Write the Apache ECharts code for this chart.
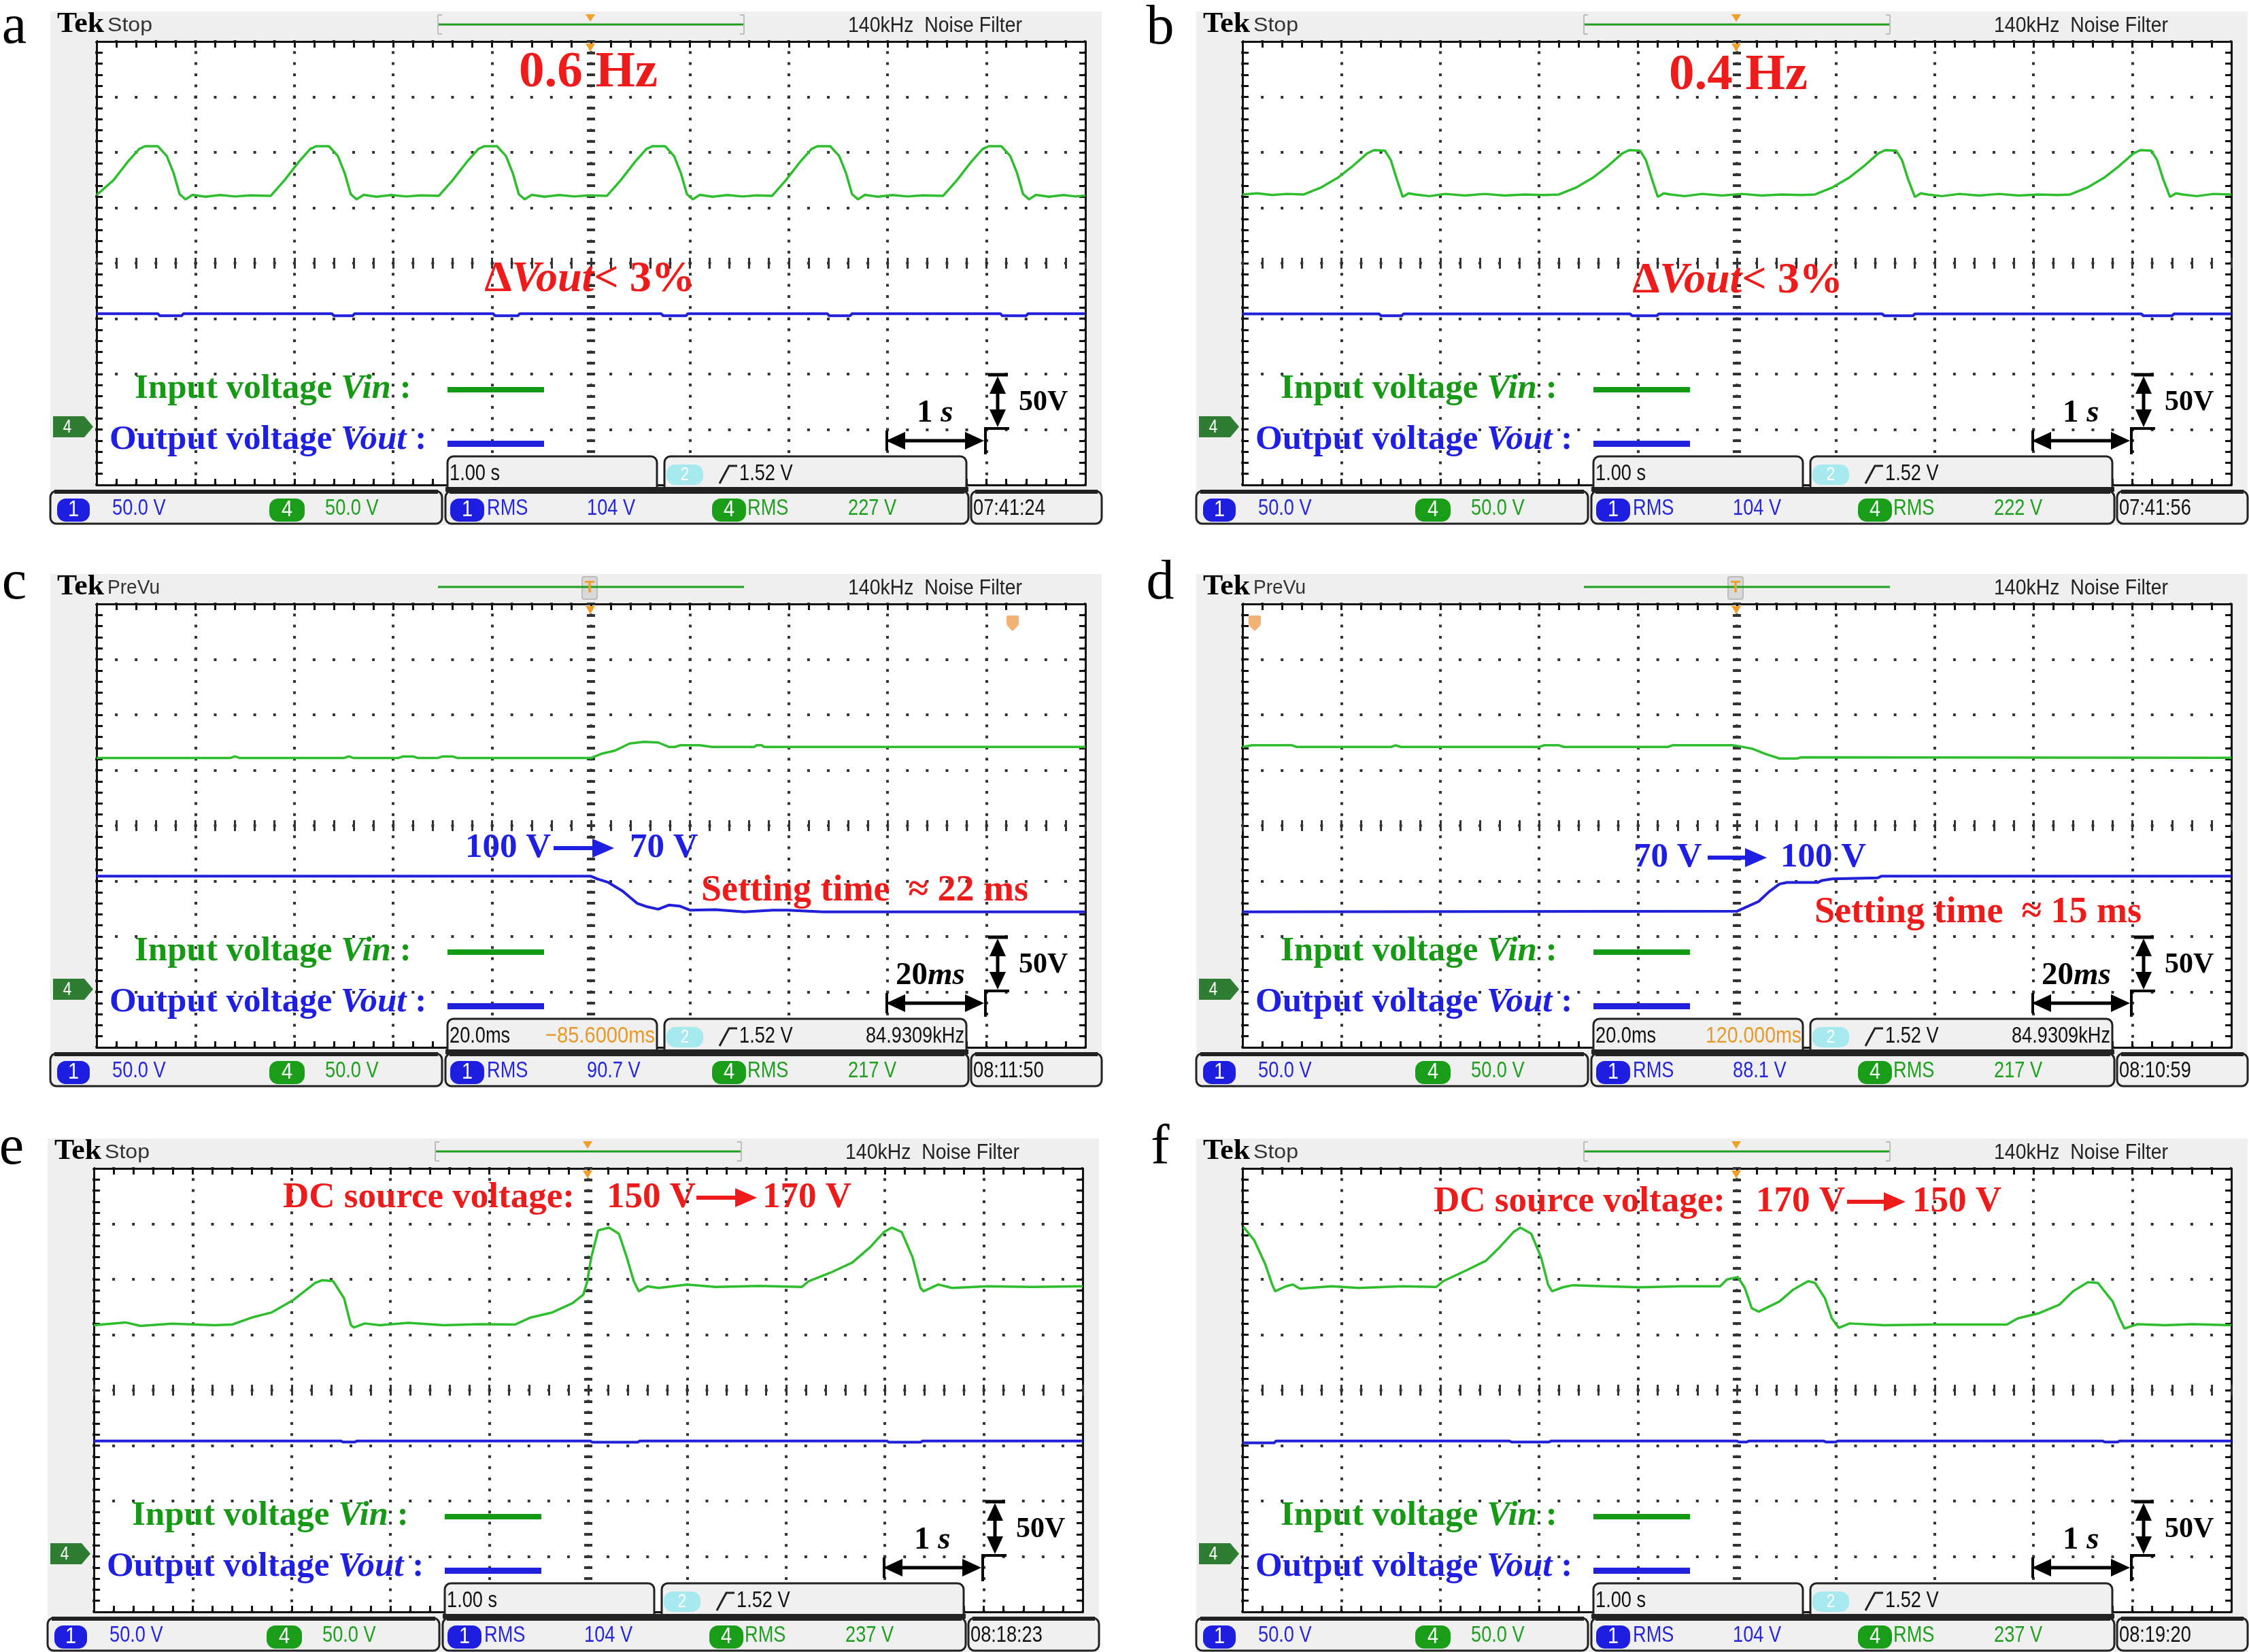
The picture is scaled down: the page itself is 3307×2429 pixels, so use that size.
<!DOCTYPE html>
<html>
<head>
<meta charset="utf-8">
<script src="https://cdn.jsdelivr.net/npm/echarts@6/dist/echarts.min.js"></script>
<style>
  html, body { margin: 0; padding: 0; background: #fff; }
  #chart { width: 3307px; height: 2429px; }
</style>
</head>
<body>
<div id="chart"></div>
<script>
// ---- waveform data: [time, volts]; time in s (a,b,e,f) or ms (c,d) ----
const aVin = [[-5.0,211.5],[-4.83,224.8],[-4.68,242],[-4.57,253],[-4.51,255.5],[-4.38,255.5],[-4.29,246.7],[-4.22,231],[-4.16,212.3],[-4.10,207.6],[-4.03,211.7],[-3.90,210],[-3.75,211.5],[-3.60,210.2],[-3.45,211.2],[-3.24,210.7],
  [-3.10,224.8],[-2.95,242],[-2.84,253],[-2.78,255.5],[-2.65,255.5],[-2.56,246.7],[-2.49,231],[-2.43,212.3],[-2.37,207.6],[-2.30,211.7],[-2.17,210],[-2.02,211.5],[-1.87,210.2],[-1.72,211.2],[-1.54,210.7],
  [-1.40,224.8],[-1.25,242],[-1.14,253],[-1.08,255.5],[-0.95,255.5],[-0.86,246.7],[-0.79,231],[-0.73,212.3],[-0.67,207.6],[-0.60,211.7],[-0.47,210],[-0.32,211.5],[-0.17,210.2],[-0.02,211.2],[0.16,210.7],
  [0.30,224.8],[0.45,242],[0.56,253],[0.62,255.5],[0.75,255.5],[0.84,246.7],[0.91,231],[0.97,212.3],[1.03,207.6],[1.10,211.7],[1.23,210],[1.38,211.5],[1.53,210.2],[1.68,211.2],[1.83,210.7],
  [1.97,224.8],[2.12,242],[2.23,253],[2.29,255.5],[2.42,255.5],[2.51,246.7],[2.58,231],[2.64,212.3],[2.70,207.6],[2.77,211.7],[2.90,210],[3.05,211.5],[3.20,210.2],[3.35,211.2],[3.56,210.7],
  [3.70,224.8],[3.85,242],[3.96,253],[4.02,255.5],[4.15,255.5],[4.24,246.7],[4.31,231],[4.37,212.3],[4.43,207.6],[4.50,211.7],[4.63,210],[4.78,211.5],[4.90,210.2],[5.0,211]];
const aVout = [[-5,104.5],[-4.38,104.5],[-4.36,102.6],[-4.14,102.6],[-4.12,104.5],[-2.62,104.5],[-2.60,102.6],[-2.41,102.6],[-2.39,104.5],[-0.99,104.5],[-0.97,102.6],[-0.74,102.6],[-0.72,104.5],
  [0.71,104.5],[0.73,102.6],[0.96,102.6],[0.98,104.5],[2.39,104.5],[2.41,102.6],[2.62,102.6],[2.64,104.5],[4.14,104.5],[4.16,102.6],[4.40,102.6],[4.42,104.5],[5,104.5]];

const bVin = [[-5,212],[-4.85,213],[-4.7,211.5],[-4.55,212.5],[-4.38,212],
  [-4.20,218.5],[-4.03,227.5],[-3.88,238],[-3.74,249],[-3.67,252],[-3.56,251.5],[-3.50,243],[-3.44,226],[-3.38,209.8],[-3.32,213],[-3.25,212],[-3.11,210.5],[-2.95,212.5],[-2.75,211],[-2.55,212.5],[-2.35,211],[-2.15,212],[-1.95,211.5],[-1.80,212],
  [-1.62,218.5],[-1.45,227.5],[-1.30,238],[-1.16,249],[-1.09,252],[-0.98,251.5],[-0.92,243],[-0.86,226],[-0.80,209.8],[-0.74,213],[-0.67,212],[-0.53,210.5],[-0.35,212.5],[-0.15,211],[0.05,212.5],[0.25,211],[0.45,212],[0.65,211.5],[0.79,212],
  [0.97,218.5],[1.14,227.5],[1.29,238],[1.43,249],[1.50,252],[1.61,251.5],[1.67,243],[1.73,226],[1.80,209.8],[1.86,213],[1.93,212],[2.07,210.5],[2.25,212.5],[2.45,211],[2.65,212.5],[2.85,211],[3.05,212],[3.25,211.5],[3.37,212],
  [3.55,218.5],[3.72,227.5],[3.87,238],[4.01,249],[4.08,252],[4.19,251.5],[4.25,243],[4.31,226],[4.38,209.8],[4.44,213],[4.51,212],[4.65,210.5],[4.82,212.5],[5.0,212]];
const bVout = [[-5,104.3],[-3.62,104.3],[-3.60,102.6],[-3.39,102.6],[-3.37,104.3],[-1.08,104.3],[-1.06,102.6],[-0.81,102.6],[-0.79,104.3],
  [1.47,104.3],[1.49,102.6],[1.78,102.6],[1.80,104.3],[4.09,104.3],[4.11,102.6],[4.40,102.6],[4.42,104.3],[5,104.3]];

const cVin = [[-100,211],[-73,211],[-72,212.5],[-71,211],[-50,211],[-49,212.5],[-48,211],[-39,211],[-38,212.5],[-36,212.5],[-35,211],[-31,211],[-30,212.5],[-28,212.5],[-27,211],
  [0,211],[2,214.7],[4.9,217.8],[7.8,224.1],[10.7,225.6],[13.6,225],[15.8,221],[17,221],[18,222.5],[22,222.5],[24.5,221],[33,221],[33.5,222.5],[34.5,222.5],[35,221],[100,221]];
const cVout = [[-100,104.4],[0,104.4],[1.3,101.9],[3.5,98.8],[6.4,91],[9.3,80],[11.4,76.8],[13.6,74.6],[15.8,78.4],[17.9,77.5],[20.1,73.7],[25.2,74.3],[31,72.2],[36.8,73.7],[39.7,73.7],[46.9,72.2],[100,72.2]];

const dVin = [[-100,221],[-98,222.5],[-90,222.5],[-89,221],[-70,221],[-69,222.5],[-68,221],[-40,221],[-39,222.5],[-36,222.5],[-35,221],[-14,221],[-13,222.5],[-1,222.5],
  [0,222],[3.1,219.4],[5.8,214.7],[8.6,210.6],[12.2,210.6],[12.9,211.6],[100,211.2]];
const dVout = [[-100,72.2],[0,72.8],[1.6,76],[4.4,81.6],[6.5,90.4],[8.6,97.3],[10.1,98.8],[16.4,98.8],[17.1,100.4],[19.3,102],[28.5,102.9],[29.2,104.4],[100,104.4]];

const eVin = [[-5.0,208.6],[-4.68,211.1],[-4.53,208],[-4.21,210],[-3.78,208.6],[-3.60,209.2],[-3.41,215.3],[-3.20,220.2],[-2.98,231.5],[-2.76,246.8],[-2.69,249.2],[-2.58,248.3],[-2.47,233],[-2.40,208.6],[-2.37,206.5],[-2.26,210.2],[-2.11,208.6],[-1.82,210.8],[-1.46,208.6],[-1.10,209.5],
  [-0.74,209.2],[-0.59,215.3],[-0.37,219.9],[-0.16,228.5],[-0.05,236.1],[-0.01,248.3],[0.03,269.7],[0.10,294.1],[0.21,296.6],[0.31,291.1],[0.39,269.7],[0.46,248.3],[0.51,239.2],[0.60,243.7],[0.71,242.2],[1.00,245.3],[1.29,243.1],[1.73,244],[2.16,243.1],
  [2.23,248.3],[2.45,256],[2.67,265.1],[2.85,278.9],[2.99,292.6],[3.07,296.6],[3.17,292.6],[3.28,269.7],[3.36,242.2],[3.39,239.2],[3.54,245.3],[3.68,242.2],[4.04,243.7],[4.48,243.1],[5.0,243.7]];
const eVout = [[-5,104.2],[-2.5,104.2],[-2.48,103.2],[-2.36,103.2],[-2.34,104.2],[0.02,104.2],[0.04,103],[0.50,103],[0.52,104.2],[3.02,104.2],[3.04,103],[3.36,103],[3.38,104.2],[5,104.2]];

const fVin = [[-4.99,297.2],[-4.88,285],[-4.77,263.6],[-4.70,245.3],[-4.67,239.2],[-4.56,243.7],[-4.49,245.3],[-4.42,241.6],[-4.10,243.7],[-3.82,242.2],[-3.39,243.7],[-3.04,243.1],
  [-2.97,248.3],[-2.75,257.5],[-2.54,266.6],[-2.40,278.9],[-2.26,292.6],[-2.19,296.6],[-2.08,291.1],[-1.98,269.7],[-1.91,245.3],[-1.87,239.2],[-1.76,242.8],[-1.66,244.7],[-1.34,243.7],[-0.98,242.8],[-0.56,243.7],[-0.17,243.7],
  [-0.10,249.8],[0.01,252],[0.08,242.2],[0.15,223.9],[0.22,220.8],[0.43,230],[0.57,240.7],[0.72,248.3],[0.79,246.8],[0.89,233],[0.96,214.7],[1.03,206.2],[1.14,210.2],[1.49,208.6],[1.99,209.2],[2.73,209.2],
  [2.84,214.7],[3.05,219.3],[3.26,227],[3.40,239.2],[3.55,247.4],[3.65,246.8],[3.80,230],[3.87,214.7],[3.92,205.6],[4.05,209.5],[4.33,208.6],[4.61,209.5],[5.0,208.6]];
const fVout = [[-5,102.4],[-4.68,102.4],[-4.66,104.2],[-2.30,104.2],[-2.28,103.2],[-1.90,103.2],[-1.88,104.2],[0.0,104.2],[0.02,103.2],[0.10,103.2],[0.12,104.2],
  [0.88,104.2],[0.90,103.2],[1.00,103.2],[1.02,104.2],[3.70,104.2],[3.72,103.2],[3.85,103.2],[3.87,104.2],[5,104.2]];

// ---- per-panel texts / scope settings ----
const panelLetters = ['a', 'b', 'c', 'd', 'e', 'f'];
const acqState = ['Stop', 'Stop', 'PreVu', 'PreVu', 'Stop', 'Stop'];
const timeAxis = [[-5, 5, 1], [-5, 5, 1], [-100, 100, 20], [-100, 100, 20], [-5, 5, 1], [-5, 5, 1]];
const horizScale = ['1.00 s', '1.00 s', '20.0ms', '20.0ms', '1.00 s', '1.00 s'];
const horizPos = [null, null, '\u221285.6000ms', '120.000ms', null, null];
const trigFreq = [null, null, '84.9309kHz', '84.9309kHz', null, null];
const ch1Rms = ['104 V', '104 V', '90.7 V', '88.1 V', '104 V', '104 V'];
const ch4Rms = ['227 V', '222 V', '217 V', '217 V', '237 V', '237 V'];
const clockText = ['07:41:24', '07:41:56', '08:11:50', '08:10:59', '08:18:23', '08:19:20'];
const timeMark = [['1 ', 's'], ['1 ', 's'], ['20', 'ms'], ['20', 'ms'], ['1 ', 's'], ['1 ', 's']];
const freqNote = ['0.6 Hz', '0.4 Hz'];
const stepNote = [['100 V', '70 V', '22 ms'], ['70 V', '100 V', '15 ms']];
const dcNote = [['150 V', '170 V'], ['170 V', '150 V']];

const vinData = [aVin, bVin, cVin, dVin, eVin, fVin];
const voutData = [aVout, bVout, cVout, dVout, eVout, fVout];

// ---- layout ----
const panelOrigin = [[0, 0], [1685, 0], [0, 827], [1685, 827], [-4, 1657], [1685, 1657]];
const letterY = [41, 42, 31, 31, 32, 32];
const PLOT = { left: 142, top: 61, width: 1454, height: 652 };

const C = {
  trGreen: '#2dbd2d', trBlue: '#2020d8', green: '#169a16', blue: '#1f1fe2', red: '#ee1b1b',
  orange: '#f0a028', dot: '#333', edge: '#111', panel: '#efefef', box: '#f0f0f0',
  stBlue: '#2626dc', stGreen: '#1f9f1f'
};
const SERIF = '"Liberation Serif", "Times New Roman", serif';
const SANS = '"Liberation Sans", Arial, sans-serif';

const mctx = document.createElement('canvas').getContext('2d');
function fontOf(o) {
  return (o.italic ? 'italic ' : '') + (o.bold ? 'bold ' : '') + o.size + 'px ' + (o.family || SERIF);
}
function label(x, y, str, o) {
  const font = fontOf(o);
  let sx = o.sx || 1;
  if (o.w) { mctx.font = font; sx = o.w / mctx.measureText(str).width; }
  const al = o.align || 'left';
  return {
    type: 'text', x, y, scaleX: sx, z: o.z || 30, silent: true,
    style: { text: str, x: 0, y: 0, font, fill: o.color || '#000',
      align: al, verticalAlign: 'middle', textAlign: al, textVerticalAlign: 'middle' }
  };
}
function richLabel(x, y, str, rich, o) {
  const al = o.align || 'left';
  return {
    type: 'text', x, y, z: o.z || 30, silent: true,
    style: { text: str, x: 0, y: 0, rich, font: fontOf(o), fill: o.color,
      align: al, verticalAlign: 'middle', textAlign: al, textVerticalAlign: 'middle' }
  };
}

const grids = [], xAxes = [], yAxes = [], series = [], elements = [];

function axisBase(extra) {
  return Object.assign({
    type: 'value', axisLabel: { show: false }, splitLine: { show: false },
    axisTick: { show: false }, minorTick: { show: false },
    axisLine: { show: false, onZero: false }
  }, extra);
}
const tickStyle = { color: C.edge, width: 3 };

for (let i = 0; i < 6; i++) {
  const [ox, oy] = panelOrigin[i];
  const [tMin, tMax, tStep] = timeAxis[i];
  grids.push({ left: ox + PLOT.left, top: oy + PLOT.top, width: PLOT.width, height: PLOT.height,
    show: true, backgroundColor: '#fff', borderWidth: 0, containLabel: false, outerBoundsMode: 'none' });

  const xi = xAxes.length, yi = yAxes.length;
  const xr = { gridIndex: i, min: tMin, max: tMax, interval: tStep };
  const yr = { gridIndex: i, min: -4, max: 4, interval: 1 };
  const vPeriod = PLOT.height / 40, hPeriod = PLOT.width / 50;
  const hidden = { show: true, lineStyle: { color: 'rgba(0,0,0,0)', width: 1 } };

  // border bottom with vertical dotted graticule
  xAxes.push(axisBase(Object.assign({}, xr, {
    position: 'bottom',
    axisLine: { show: true, onZero: false, lineStyle: { color: C.edge, width: 3 } },
    axisTick: { show: true, inside: true, length: 9, lineStyle: tickStyle },
    minorTick: { show: true, splitNumber: 5, length: 9, lineStyle: tickStyle },
    splitLine: { show: true, lineStyle: { color: C.dot, width: 4, type: [4, vPeriod - 4], dashOffset: 2 } }
  })));
  // border top
  xAxes.push(axisBase(Object.assign({}, xr, {
    position: 'top',
    axisLine: { show: true, onZero: false, lineStyle: { color: C.edge, width: 3 } },
    axisTick: { show: true, inside: true, length: 9, lineStyle: tickStyle },
    minorTick: { show: true, splitNumber: 5, length: 9, lineStyle: tickStyle }
  })));
  // centre horizontal line ticks (both sides)
  ['bottom', 'top'].forEach(pos => {
    xAxes.push(axisBase(Object.assign({}, xr, {
      position: pos,
      axisLine: Object.assign({ onZero: true, onZeroAxisIndex: yi }, hidden),
      axisTick: { show: true, inside: false, length: 8, lineStyle: { color: C.dot, width: 3 } },
      minorTick: { show: true, splitNumber: 5, length: 8, lineStyle: { color: C.dot, width: 3 } }
    })));
  });

  // border left with horizontal dotted graticule
  yAxes.push(axisBase(Object.assign({}, yr, {
    position: 'left',
    axisLine: { show: true, onZero: false, lineStyle: { color: C.edge, width: 3 } },
    axisTick: { show: true, inside: true, length: 9, lineStyle: tickStyle },
    minorTick: { show: true, splitNumber: 5, length: 9, lineStyle: tickStyle },
    splitLine: { show: true, lineStyle: { color: C.dot, width: 4, type: [4, hPeriod - 4], dashOffset: 2 } }
  })));
  yAxes.push(axisBase(Object.assign({}, yr, {
    position: 'right',
    axisLine: { show: true, onZero: false, lineStyle: { color: C.edge, width: 3 } },
    axisTick: { show: true, inside: true, length: 9, lineStyle: tickStyle },
    minorTick: { show: true, splitNumber: 5, length: 9, lineStyle: tickStyle }
  })));
  ['left', 'right'].forEach(pos => {
    yAxes.push(axisBase(Object.assign({}, yr, {
      position: pos,
      axisLine: Object.assign({ onZero: true, onZeroAxisIndex: xi }, hidden),
      axisTick: { show: true, inside: false, length: 6, lineStyle: { color: C.dot, width: 4 } },
      minorTick: { show: true, splitNumber: 5, length: 6, lineStyle: { color: C.dot, width: 4 } }
    })));
  });
  // volts axis for the traces: 50 V/div, ground 3 div below centre
  yAxes.push(axisBase({ gridIndex: i, min: -50, max: 350, show: false }));

  series.push({ type: 'line', xAxisIndex: xi, yAxisIndex: yi + 4, data: vinData[i], symbol: 'none',
    lineStyle: { color: C.trGreen, width: 3.5 }, itemStyle: { color: C.trGreen }, z: 3, silent: true });
  series.push({ type: 'line', xAxisIndex: xi, yAxisIndex: yi + 4, data: voutData[i], symbol: 'none',
    lineStyle: { color: C.trBlue, width: 4 }, itemStyle: { color: C.trBlue }, z: 3, silent: true });

  // ---- decorations ----
  const X = v => ox + v, Y = v => oy + v;
  const rect = (x, y, w, h, style, z, r) => elements.push({ type: 'rect', silent: true, z: z == null ? 20 : z,
    shape: { x: X(x), y: Y(y), width: w, height: h, r: r || 0 }, style });
  const line = (x1, y1, x2, y2, stroke, lw, z) => elements.push({ type: 'line', silent: true, z: z || 30,
    shape: { x1: X(x1), y1: Y(y1), x2: X(x2), y2: Y(y2) }, style: { stroke, lineWidth: lw } });
  const poly = (pts, fill, z) => elements.push({ type: 'polygon', silent: true, z: z || 30,
    shape: { points: pts.map(p => [X(p[0]), Y(p[1])]) }, style: { fill } });
  const pline = (pts, stroke, lw, z) => elements.push({ type: 'polyline', silent: true, z: z || 30,
    shape: { points: pts.map(p => [X(p[0]), Y(p[1])]) }, style: { stroke, lineWidth: lw, fill: null } });
  const put = (x, y, str, o) => elements.push(label(X(x), Y(y), str, o));
  const putRich = (x, y, str, rich, o) => elements.push(richLabel(X(x), Y(y), str, rich, o));
  const scope = (x, y, str, color, extra) => put(x, y, str, Object.assign({ family: SANS, size: 34, sx: 0.8, color, z: 32 }, extra || {}));
  const pill = (x, w, fill, str) => { rect(x, 733, w, 34, { fill }, 31, 13); scope(x + w / 2, 750, str, '#fff', { align: 'center', sx: 0.85 }); };
  const arrowR = (x1, x2, y, color) => { line(x1, y, x2 - 24, y, color, 6); poly([[x2 - 32, y - 14], [x2, y], [x2 - 32, y + 14]], color); };

  // panel background and letter
  rect(74, 17, 1546, 755, { fill: C.panel }, -10);
  put(21, letterY[i], panelLetters[i], { size: 82, align: 'center', z: 30 });

  // header
  put(84, 36, 'Tek', { bold: true, size: 42, w: 69 });
  put(158, 38, acqState[i], { family: SANS, size: 30, w: acqState[i] === 'Stop' ? 66 : 77, color: '#333' });
  line(644, 36, 1094, 36, '#1f9d1f', 3);
  if (acqState[i] === 'Stop') {
    [[644, 650], [1094, 1088]].forEach(([a, b]) => {
      line(a, 22, a, 50, '#bdbdbd', 2); line(a, 22, b, 22, '#bdbdbd', 2); line(a, 50, b, 50, '#bdbdbd', 2);
    });
    poly([[861, 21], [875, 21], [868, 32]], C.orange);
  } else {
    rect(856, 21, 22, 33, { fill: '#d9d9d9', stroke: '#bcbcbc', lineWidth: 2 }, 29, 3);
    put(867, 37, 'T', { family: SANS, bold: true, size: 24, color: C.orange, align: 'center' });
  }
  put(1247, 38, '140kHz  Noise Filter', { family: SANS, size: 31, w: 256, color: '#222' });
  poly([[861, 64], [875, 64], [868, 76]], C.orange);
  if (i === 2) { rect(1480, 78, 18, 14, { fill: '#f2b273' }, 30, 2); poly([[1480, 92], [1498, 92], [1489, 101]], '#f2b273'); }
  if (i === 3) { rect(151, 78, 18, 14, { fill: '#f2b273' }, 30, 2); poly([[151, 92], [169, 92], [160, 101]], '#f2b273'); }

  // annotations
  if (i < 2) {
    put(i ? 871 : 865, i ? 112 : 108, freqNote[i], { bold: true, size: 75, color: C.red, align: 'center' });
    putRich(i ? 870 : 867, i ? 413 : 411, '{n|\u0394}{v|Vout}{n|< 3%}', {
      n: { font: 'bold 64px ' + SERIF, fill: C.red },
      v: { font: 'italic bold 64px ' + SERIF, fill: C.red }
    }, { size: 64, bold: true, color: C.red, align: 'center' });
  } else if (i < 4) {
    const s = stepNote[i - 2];
    const bo = { bold: true, size: 51, color: C.blue };
    if (i === 2) {
      put(684, 420, s[0], bo); arrowR(814, 903, 420, C.blue); put(926, 420, s[1], bo);
      put(1031, 483, 'Setting time  \u2248 ' + s[2], { bold: true, size: 54, color: C.red });
    } else {
      put(717, 434, s[0], bo); arrowR(826, 913, 434, C.blue); put(933, 434, s[1], bo);
      put(983, 515, 'Setting time  \u2248 ' + s[2], { bold: true, size: 54, color: C.red });
    }
  } else {
    const s = dcNote[i - 4], ry = i === 4 ? 104 : 110;
    const ro = { bold: true, size: 53, color: C.red };
    put(i === 4 ? 420 : 423, ry, 'DC source voltage:', ro);
    put(i === 4 ? 896 : 897, ry, s[0], ro);
    arrowR(i === 4 ? 1028 : 1031, 1117, ry, C.red);
    put(i === 4 ? 1125 : 1127, ry, s[1], ro);
  }

  // legend
  const lg = (c) => ({ a: { font: 'bold 51px ' + SERIF, fill: c }, b: { font: 'italic bold 51px ' + SERIF, fill: c } });
  putRich(198, 572, '{a|Input voltage }{b|Vin}{a| :}', lg(C.green), { size: 51, bold: true, color: C.green });
  putRich(161, 647, '{a|Output voltage }{b|Vout}{a| :}', lg(C.blue), { size: 51, bold: true, color: C.blue });
  rect(658, 569, 142, 8, { fill: '#159a15' }, 30);
  rect(658, 648, 142, 9, { fill: '#2222dd' }, 30);

  // channel 4 ground marker
  poly([[78, 612], [124, 612], [137, 627.5], [124, 643], [78, 643]], '#2f7d32', 30);
  scope(99, 628, '4', '#fff', { size: 28, align: 'center' });

  // scale markers
  line(1304, 633, 1304, 663, '#000', 4);
  line(1326, 648, 1424, 648, '#000', 5);
  poly([[1303, 648], [1331, 635], [1331, 661]], '#000');
  poly([[1447, 648], [1419, 635], [1419, 661]], '#000');
  line(1449, 628, 1449, 668, '#000', 4);
  line(1447, 630, 1484, 630, '#000', 4);
  line(1453, 551, 1482, 551, '#000', 5);
  line(1467, 572, 1467, 608, '#000', 5);
  poly([[1467, 553], [1455, 579], [1479, 579]], '#000');
  poly([[1467, 628], [1455, 602], [1479, 602]], '#000');
  put(1498, 592, '50V', { bold: true, size: 42 });
  const tm = timeMark[i];
  putRich(tm[0] === '20' ? 1317 : 1348, 608, '{a|' + tm[0] + '}{b|' + tm[1] + '}', {
    a: { font: 'bold 47px ' + SERIF, fill: '#000' }, b: { font: 'italic bold 47px ' + SERIF, fill: '#000' }
  }, { size: 47, bold: true, color: '#000' });

  // readout boxes above status bar
  const boxStyle = { fill: C.box, stroke: '#222', lineWidth: 3 };
  rect(658, 671, 308, 52, boxStyle, 25, [9, 9, 0, 0]);
  rect(977, 671, 444, 52, boxStyle, 25, [9, 9, 0, 0]);
  rect(655, 716, 769, 7, { fill: '#222' }, 26);
  scope(661, 697, horizScale[i], '#111');
  if (horizPos[i]) scope(i === 2 ? 802 : 823, 697, horizPos[i], '#e89a28', { w: i === 2 ? 161 : 141 });
  rect(980, 683, 54, 30, { fill: '#a6e9ef' }, 31, 13);
  scope(1007, 698, '2', '#fff', { align: 'center', size: 28 });
  pline([[1058, 711], [1072, 685], [1084, 685]], '#222', 3, 32);
  scope(1087, 697, '1.52 V', '#111');
  if (trigFreq[i]) scope(1273, 697, trigFreq[i], '#111', { w: 145 });

  // status bar
  rect(74, 722, 576, 48, boxStyle, 25, 9);
  rect(655, 722, 769, 48, boxStyle, 25, 9);
  rect(1428, 722, 192, 48, boxStyle, 25, 9);
  rect(80, 720, 564, 6, { fill: '#222' }, 26);
  rect(661, 720, 757, 6, { fill: '#222' }, 26);
  rect(1434, 720, 180, 6, { fill: '#222' }, 26);
  pill(84, 48, '#1e1ee0', '1');
  scope(165, 748, '50.0 V', C.stBlue);
  pill(396, 52, '#1a9e1a', '4');
  scope(478, 748, '50.0 V', C.stGreen);
  pill(662, 50, '#1e1ee0', '1');
  scope(716, 748, 'RMS', C.stBlue);
  scope(863, 748, ch1Rms[i], C.stBlue);
  pill(1047, 50, '#1a9e1a', '4');
  scope(1099, 748, 'RMS', C.stGreen);
  scope(1247, 748, ch4Rms[i], C.stGreen);
  scope(1431, 748, clockText[i], '#111');
}

const chart = echarts.init(document.getElementById('chart'), null, { renderer: 'canvas' });
chart.setOption({
  animation: false,
  backgroundColor: '#fff',
  grid: grids,
  xAxis: xAxes,
  yAxis: yAxes,
  series,
  graphic: { elements }
});
window.addEventListener('resize', () => chart.resize());
</script>
</body>
</html>
